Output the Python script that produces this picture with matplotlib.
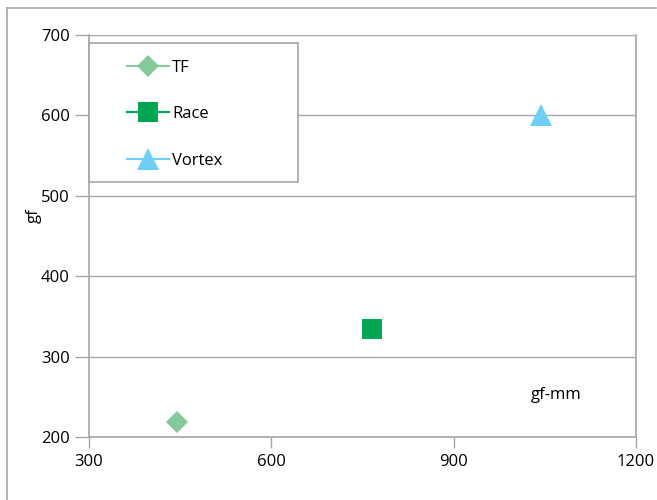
import matplotlib
matplotlib.use("Agg")
import matplotlib.pyplot as plt
from matplotlib.patches import Rectangle
from matplotlib.lines import Line2D

plt.rcParams['font.family'] = ['Open Sans', 'DejaVu Sans']

series = ["TF", "Race", "Vortex"]
x_vals = [445, 765, 1043]
y_vals = [219, 334, 600]
markers = ["D", "s", "^"]
colors = ["#85C99B", "#00A651", "#6DCFF6"]
sizes = [11, 14, 16]
xticks = [300, 600, 900, 1200]
yticks = [200, 300, 400, 500, 600, 700]

W, H = 657, 500
fig = plt.figure(figsize=(6.57, 5.0), dpi=100)
ax = fig.add_axes([89/W, 63/H, 547/W, 402/H])

grid_c = "#A6A6A6"
for x, y, m, c, s, lab in zip(x_vals, y_vals, markers, colors, sizes, series):
    ax.plot([x], [y], linestyle='-', marker=m, color=c, markersize=s,
            markeredgewidth=0, label=lab, zorder=3)

ax.set_xlim(300, 1200)
ax.set_ylim(200, 700)
ax.set_xticks(xticks)
ax.set_yticks(yticks)
ax.tick_params(axis='both', labelsize=12, color=grid_c, width=1)
ax.tick_params(axis='x', pad=4, length=8)
ax.tick_params(axis='y', pad=4, length=10)
ax.yaxis.grid(True, color=grid_c, linewidth=1)
ax.set_axisbelow(True)
for side in ['left', 'right', 'bottom']:
    ax.spines[side].set_color(grid_c)
    ax.spines[side].set_linewidth(1.2)
ax.spines['top'].set_visible(False)

ax.set_ylabel("gf", fontsize=12)
ax.yaxis.set_label_coords(-0.086, 0.55)
ax.text(1068, 252, "gf-mm", fontsize=12, ha='center', va='center')

# legend frame
ax.add_patch(Rectangle((0, 1 - 147/402), 209/547, 139/402,
                       transform=ax.transAxes, fill=True, clip_on=False,
                       facecolor='white', edgecolor=grid_c, linewidth=1.2, zorder=4))
leg = ax.legend(loc='upper left', bbox_to_anchor=(38/547, 1 - 25/402),
                frameon=False, fontsize=12, handlelength=2.5,
                handletextpad=0.2, labelspacing=1.82, borderaxespad=0,
                borderpad=0)
leg.set_zorder(5)

# outer border (top and left)
fig.add_artist(Line2D([7/W, 656/W], [492/H, 492/H], transform=fig.transFigure,
                      color=grid_c, linewidth=1.2))
fig.add_artist(Line2D([7/W, 7/W], [0, 492/H], transform=fig.transFigure,
                      color=grid_c, linewidth=1.2))

fig.savefig("out.png", dpi=100)
